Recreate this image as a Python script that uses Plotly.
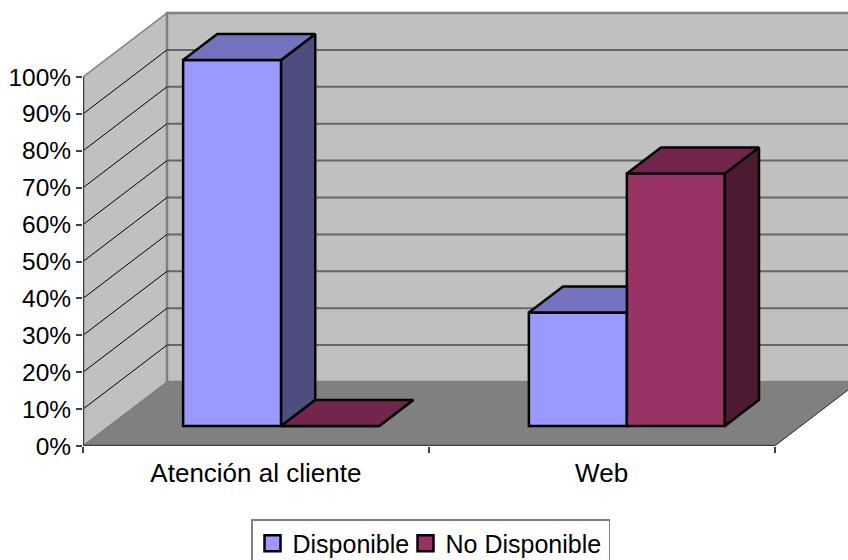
import plotly.graph_objects as go

# ---- data ----
categories = ["Atención al cliente", "Web"]
series_names = ["Disponible", "No Disponible"]
disponible = [1.00, 0.31]
no_disponible = [0.00, 0.69]
y_ticks = [i / 10 for i in range(11)]
y_tick_labels = [f"{i * 10}%" for i in range(11)]

# ---- style ----
front_colors = ["#9999FF", "#993366"]
top_colors = ["#7373BF", "#73264D"]
side_colors = ["#4D4D80", "#4D1933"]
legend_widths = [108, 158]
WALL = "#C0C0C0"
FLOOR = "#808080"
EDGE = "#808080"
AXIS = "#404040"
FONT = "Liberation Sans, Arial, sans-serif"

# ---- oblique projection expressed in axis units ----
CAT_PX, VAL_PX = 345.75, 369.0
DX, DY = 84 / CAT_PX, 64 / VAL_PX           # full floor depth
F0, F1 = 20 / 64, 46 / 64                   # bar front / back depth fraction
BAR_W = 98 / CAT_PX
BAR_SCALE = 366 / 369                       # bars sit further back
X_MAX, Y_MAX = 765 / CAT_PX, 436 / VAL_PX


def proj(x, y, f):
    return x + DX * f, y + DY * f


fig = go.Figure()
shapes = []


def poly_path(pts):
    return "M" + "L".join(f"{x},{y}" for x, y in pts) + "Z"


# walls and floor
n = len(categories)
shapes.append(dict(type="path", layer="below", xref="x", yref="y", fillcolor=WALL,
                   line=dict(color=EDGE, width=1.5),
                   path=poly_path([(0, 0), proj(0, 0, 1), proj(0, 1, 1), (0, 1)])))
shapes.append(dict(type="path", layer="below", xref="x", yref="y", fillcolor=WALL,
                   line=dict(color=EDGE, width=2.5),
                   path=poly_path([proj(0, 0, 1), proj(n, 0, 1), proj(n, 1, 1), proj(0, 1, 1)])))
shapes.append(dict(type="path", layer="below", xref="x", yref="y", fillcolor=FLOOR,
                   line=dict(color=FLOOR, width=1),
                   path=poly_path([(0, 0), (n, 0), proj(n, 0, 1), proj(0, 0, 1)])))
# gridlines
for v in y_ticks[1:-1]:
    x0, y0 = proj(0, v, 1)
    shapes.append(dict(type="line", layer="below", xref="x", yref="y",
                       x0=x0, y0=y0, x1=X_MAX * 1.1, y1=y0,
                       line=dict(color="#666666", width=2)))
    shapes.append(dict(type="line", layer="below", xref="x", yref="y",
                       x0=0, y0=v, x1=x0, y1=y0, line=dict(color="#000000", width=1)))

# bars
all_values = [disponible, no_disponible]
n_series = len(all_values)
group_gap = (1 - n_series * BAR_W) / 2 - 1 / CAT_PX


def face(pts, color):
    xs = [p[0] for p in pts] + [pts[0][0]]
    ys = [p[1] for p in pts] + [pts[0][1]]
    fig.add_trace(go.Scatter(x=xs, y=ys, mode="lines", fill="toself", fillcolor=color,
                             line=dict(color="#000000", width=2.5), showlegend=False,
                             hoverinfo="skip", cliponaxis=False))


for s, (name, values) in enumerate(zip(series_names, all_values)):
    lefts = [c + group_gap + s * BAR_W for c in range(n)]
    fig.add_trace(go.Bar(
        x=[l + BAR_W / 2 + DX * F0 for l in lefts],
        y=[v * BAR_SCALE for v in values],
        base=[DY * F0] * n,
        width=BAR_W, name=name, showlegend=False,
        marker=dict(color=front_colors[s], line=dict(color="#000000", width=2.5)),
        hoverinfo="skip",
    ))

for c in range(n):
    for s in range(n_series):
        left = c + group_gap + s * BAR_W
        right = left + BAR_W
        h = all_values[s][c] * BAR_SCALE
        next_h = all_values[s + 1][c] * BAR_SCALE if s + 1 < n_series else -1
        hidden = next_h >= h
        # top face: cut off where the taller neighbouring bar's front hides it
        fl, fr = proj(left, h, F0), proj(right, h, F0)
        bl, br = proj(left, h, F1), proj(right, h, F1)
        if hidden:
            br = (fr[0], br[1])
        else:
            face([proj(right, 0, F0), proj(right, 0, F1), br, fr], side_colors[s])
        face([fl, fr, br, bl], top_colors[s])

# axes, drawn from the same projection
fig.add_trace(go.Scatter(x=[0, 0, n], y=[1, 0, 0], mode="lines", showlegend=False,
                         line=dict(color=AXIS, width=2.5), hoverinfo="skip", cliponaxis=False))
fig.add_trace(go.Scatter(x=[n, proj(n, 0, 1)[0]], y=[0, proj(n, 0, 1)[1]], mode="lines",
                         showlegend=False, line=dict(color="#333333", width=1),
                         hoverinfo="skip", cliponaxis=False))

# legend entries
for name, col, w in zip(series_names, front_colors, legend_widths):
    fig.add_trace(go.Scatter(x=[None], y=[None], mode="markers", name=name, legendwidth=w,
                             marker=dict(symbol="square", size=16, color=col,
                                         line=dict(color="#000000", width=2.5))))

fig.update_layout(
    width=848, height=560,
    margin=dict(l=83, r=0, t=10, b=114, autoexpand=False),
    paper_bgcolor="#FFFFFF", plot_bgcolor="#FFFFFF",
    barmode="overlay", shapes=shapes,
    font=dict(family=FONT, size=24, color="#000000"),
    xaxis=dict(range=[0, X_MAX], tickmode="array", tickvals=[0.5, 1.5], ticktext=categories,
               ticks="", showgrid=False, zeroline=False, showline=False,
               ticklabelstandoff=9, tickfont=dict(size=26),
               minor=dict(tickmode="array", tickvals=list(range(n + 1)), ticks="outside",
                          ticklen=6, tickwidth=1.5, tickcolor=AXIS, showgrid=False)),
    yaxis=dict(range=[0, Y_MAX], tickmode="array", tickvals=y_ticks, ticktext=y_tick_labels,
               ticks="outside", ticklen=6, tickwidth=1.5, tickcolor=AXIS,
               showgrid=False, zeroline=False, showline=False, tickfont=dict(size=24.5)),
    legend=dict(orientation="h", x=(251 - 83) / 765, y=-(519 - 446) / 436,
                xanchor="left", yanchor="top", bgcolor="#FFFFFF",
                bordercolor="#808080", borderwidth=1.5,
                font=dict(size=25), itemwidth=30, traceorder="normal"),
)

fig.write_html("out.html", config=dict(displayModeBar=False),
               post_script="document.body.style.margin='0';document.body.style.overflow='hidden';")
